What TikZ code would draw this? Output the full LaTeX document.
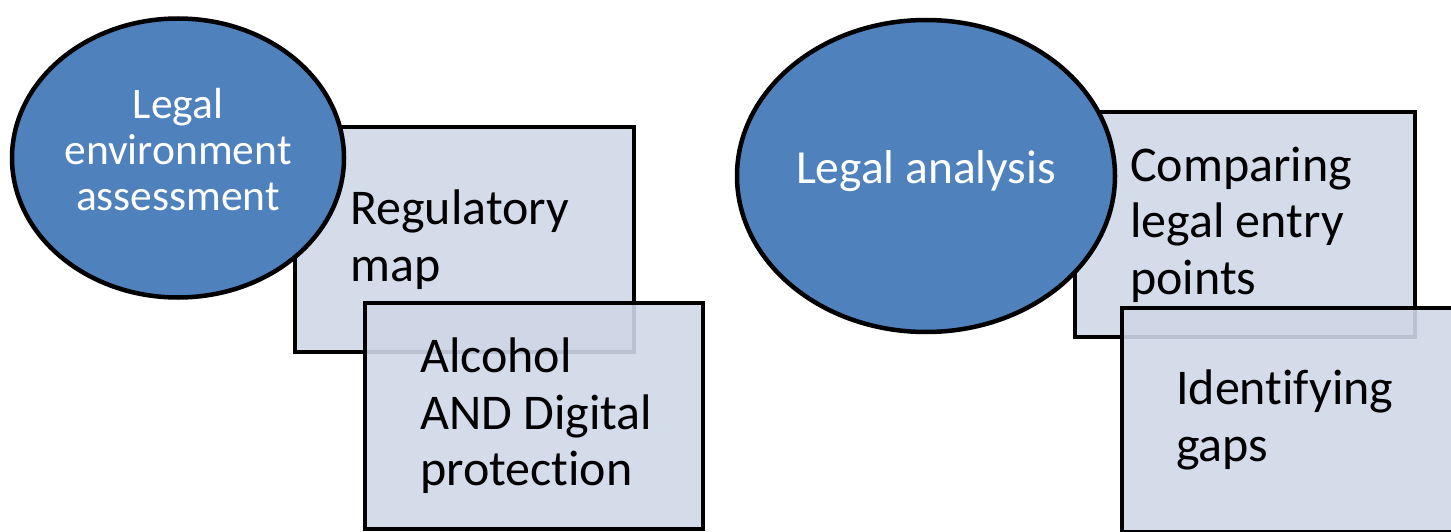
\documentclass[tikz,border=0pt]{standalone}
\usepackage{fontspec}
\setmainfont{Carlito}[Ligatures=NoCommon]
\usetikzlibrary{shapes.geometric}
\definecolor{ovalblue}{RGB}{79,129,189}
\definecolor{boxfill}{RGB}{207,215,231}
\tikzset{
  oval/.style={ellipse, draw=black, line width=4.5pt, fill=ovalblue, inner sep=0pt},
  ovaltext/.style={text=white, align=center, inner sep=0pt},
  card/.style={rectangle, draw=black, line width=4pt, fill=boxfill, fill opacity=0.9,
    inner sep=0pt, anchor=north west},
  cardtext/.style={anchor=west, align=left, inner sep=0pt, text=black,
    font=\fontsize{50}{56.5}\selectfont},
}
\begin{document}
\begin{tikzpicture}[x=1pt, y=-1pt]
\useasboundingbox (0,0) rectangle (1451,532);
\clip (0,0) rectangle (1451,532);

% left group
\node[card, minimum width=339pt, minimum height=225pt] (regbox) at (293,125) {};
\node[card, minimum width=338pt, minimum height=226pt] (alcbox) at (363,301) {};
\node[cardtext] (regtext) at ([xshift=57pt]regbox.west) {Regulatory\\map};
\node[cardtext] (alctext) at ([xshift=57pt]alcbox.west) {Alcohol\\AND Digital\\protection};
\node[oval, minimum width=332pt, minimum height=279pt] (envoval) at (178,158) {};
\node[ovaltext, font=\fontsize{43.5}{46}\selectfont] (envtext)
      at ([yshift=8pt]envoval.center) {Legal\\environment\\assessment};

% right group
\node[card, minimum width=340pt, minimum height=225pt] (cmpbox) at (1073,110) {};
\node[card, minimum width=350pt, minimum height=224pt] (gapbox) at (1120,306) {};
\node[cardtext] (cmptext) at ([xshift=57pt]cmpbox.west) {Comparing\\legal entry\\points};
\node[cardtext] (gaptext) at ([xshift=56pt]gapbox.west) {Identifying\\gaps};
\node[oval, minimum width=378pt, minimum height=312pt] (anaoval) at (926,176) {};
\node[ovaltext, font=\fontsize{47.5}{52}\selectfont] (anatext)
      at ([yshift=5pt]anaoval.center) {Legal analysis};
\end{tikzpicture}
\end{document}
